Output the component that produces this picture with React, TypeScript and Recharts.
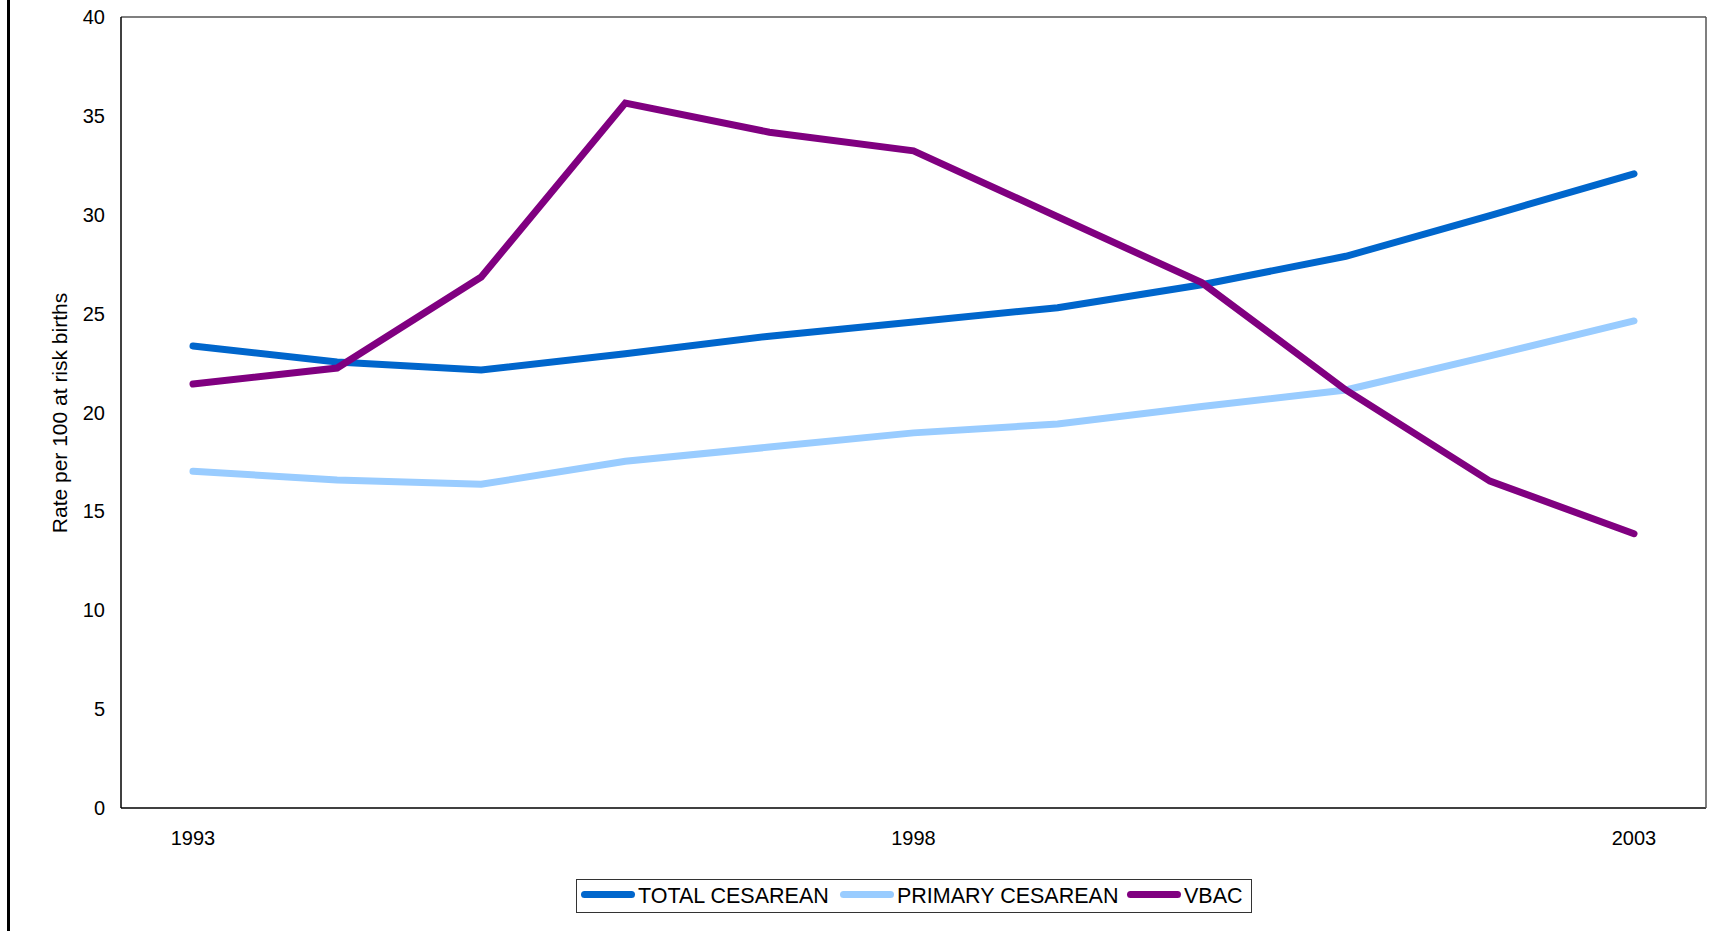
import React from 'react';
import { LineChart, Line, XAxis, YAxis } from 'recharts';

const years = ['1993', '1994', '1995', '1996', '1997', '1998', '1999', '2000', '2001', '2002', '2003'];
const totalCesarean = [23.36, 22.55, 22.15, 22.97, 23.86, 24.58, 25.3, 26.46, 27.9, 29.96, 32.07];
const primaryCesarean = [17.03, 16.59, 16.37, 17.53, 18.25, 18.97, 19.42, 20.3, 21.14, 22.86, 24.63];
const vbac = [21.44, 22.25, 26.85, 35.65, 34.17, 33.23, 29.9, 26.57, 21.14, 16.53, 13.87];
const yTicks = [0, 5, 10, 15, 20, 25, 30, 35, 40];

const seriesKeys = ['total', 'primary', 'vbac'];
const seriesNames = ['TOTAL CESAREAN', 'PRIMARY CESAREAN', 'VBAC'];
const seriesColors = ['#0066CC', '#99CCFF', '#800080'];

const data = years.map((y, i) => ({
  year: y,
  total: totalCesarean[i],
  primary: primaryCesarean[i],
  vbac: vbac[i],
}));

const FONT = '"Liberation Sans", Arial, sans-serif';

// legend item left offsets inside the legend box
const legendItemX = [4, 263, 550];

function LegendBox() {
  return (
    <div
      style={{
        position: 'absolute',
        left: 576,
        top: 879,
        width: 676,
        height: 34,
        border: '1px solid #333',
        boxSizing: 'border-box',
        background: '#fff',
      }}
    >
      {seriesNames.map((name, i) => (
        <div
          key={name}
          style={{ position: 'absolute', left: legendItemX[i], top: 0, height: 32, display: 'flex', alignItems: 'center' }}
        >
          <div
            style={{
              width: 54,
              height: 7,
              borderRadius: 4,
              background: seriesColors[i],
              marginRight: 3,
              position: 'relative',
              top: -2,
            }}
          />
          <span
            style={{
              display: 'inline-block',
              fontFamily: FONT,
              fontSize: 21.5,
              color: '#000',
              whiteSpace: 'nowrap',
              lineHeight: '32px',
            }}
          >
            {name}
          </span>
        </div>
      ))}
    </div>
  );
}

export default function App() {
  return (
    <div style={{ position: 'absolute', left: 0, top: 0, width: 1720, height: 931, background: '#fff' }}>
      <div style={{ position: 'absolute', left: 7, top: 0, width: 3, height: 931, background: '#000' }} />
      <LineChart
        width={1720}
        height={931}
        data={data}
        margin={{ top: 16, right: 13, bottom: 83, left: 41 }}
      >
        <XAxis
          dataKey="year"
          type="category"
          interval={4}
          padding={{ left: 72, right: 72 }}
          axisLine={{ stroke: '#000', strokeWidth: 1.5 }}
          tickLine={false}
          tickSize={0}
          tickMargin={23}
          height={40}
          tick={{ fontSize: 20, fill: '#000', fontFamily: FONT }}
        />
        <XAxis
          xAxisId="top"
          dataKey="year"
          orientation="top"
          height={1}
          tick={false}
          tickLine={false}
          axisLine={{ stroke: '#555', strokeWidth: 1.5 }}
        />
        <YAxis
          domain={[0, 40]}
          ticks={yTicks}
          width={80}
          interval={0}
          axisLine={{ stroke: '#000', strokeWidth: 1.5 }}
          tickLine={false}
          tickSize={0}
          tickMargin={16}
          tick={{ fontSize: 20, fill: '#000', fontFamily: FONT }}
          label={{
            content: () => (
              <text
                x={59}
                y={413}
                transform="rotate(-90, 59, 413)"
                textAnchor="middle"
                dominantBaseline="central"
                fontSize={21}
                fontFamily={FONT}
                fill="#000"
              >
                Rate per 100 at risk births
              </text>
            ),
          }}
        />
        <YAxis
          yAxisId="right"
          orientation="right"
          domain={[0, 40]}
          width={1}
          tick={false}
          tickLine={false}
          axisLine={{ stroke: '#555', strokeWidth: 1.5 }}
        />
        {seriesKeys.map((k, i) => (
          <Line
            key={k}
            dataKey={k}
            name={seriesNames[i]}
            stroke={seriesColors[i]}
            strokeWidth={7}
            strokeLinecap="round"
            strokeLinejoin="miter"
            dot={false}
            activeDot={false}
            isAnimationActive={false}
          />
        ))}
      </LineChart>
      <LegendBox />
    </div>
  );
}
